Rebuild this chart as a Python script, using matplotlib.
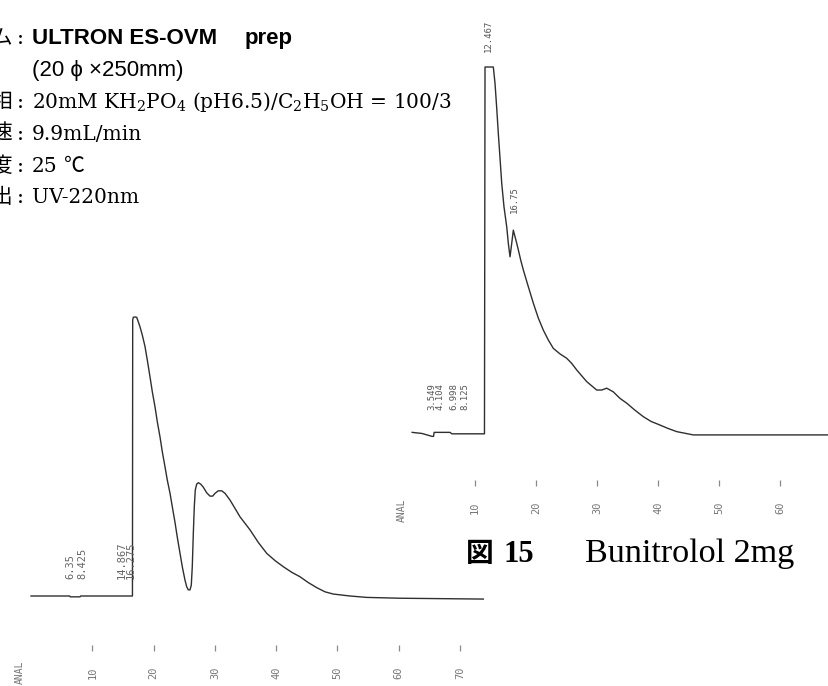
import matplotlib
matplotlib.use("Agg")
import matplotlib.pyplot as plt

plt.rcParams["mathtext.fontset"] = "dejavuserif"

W, H = 829, 686

# ---- chromatogram A (lower left): time [min] vs relative response ----
a_time = [0.0, 6.3, 6.4, 8.0, 8.1, 16.55, 16.59, 16.69, 16.97, 17.24, 17.5, 17.78,
          18.16, 18.6, 18.97, 19.41, 19.79, 20.23, 20.6, 21.04, 21.42, 21.86,
          22.23, 22.68, 23.05, 23.49, 23.87, 24.31, 24.68, 25.12, 25.4, 25.66,
          25.94, 26.15, 26.31, 26.48, 26.64, 26.8, 27.03, 27.29, 27.68, 28.11,
          28.66, 29.2, 29.64, 30.02, 30.55, 31.11, 31.65, 32.46, 33.28, 34.09,
          35.73, 37.08, 38.45, 39.8, 41.16, 42.53, 43.88, 45.24, 46.61, 47.96,
          49.31, 52.04, 54.76, 60.2, 73.79]
a_resp = [0.0, 0.0, -0.3, -0.3, 0.0, 0.0, 98.9, 99.9, 100.0, 99.9, 98.3, 96.5,
          93.5, 89.4, 84.6, 78.6, 73.2, 67.8, 62.5, 57.1, 51.7, 46.3,
          41.6, 36.8, 32.0, 26.4, 21.0, 15.3, 10.5, 5.7, 3.3, 2.2,
          2.2, 3.9, 10.5, 22.5, 32.0, 38.0, 40.1, 40.6, 40.1, 39.0,
          37.0, 35.8, 35.8, 36.8, 37.7, 37.7, 36.8, 34.4, 31.4, 28.4,
          23.7, 19.2, 15.3, 12.7, 10.5, 8.5, 6.9, 4.8, 3.0, 1.5,
          0.7, 0.0, -0.5, -0.8, -1.1]
a_ticks = [10, 20, 30, 40, 50, 60, 70]
a_rt = [6.35, 8.425, 14.867, 16.275]
a_rt_text = ["6.35", "8.425", "14.867", "16.275"]

# ---- chromatogram B (upper right): Bunitrolol 2mg ----
b_time = [-0.3, 1.3, 2.95, 3.2, 3.3, 5.9, 6.2, 11.55, 11.64, 13.0, 13.28, 13.56,
          13.82, 14.1, 14.38, 14.75, 15.2, 15.46, 15.74, 16.02, 16.28, 16.56,
          16.84, 17.1, 17.49, 17.92, 18.74, 19.56, 20.38, 21.2, 22.02, 22.84,
          23.93, 25.03, 25.85, 26.67, 28.31, 29.95, 30.77, 31.59, 32.67, 33.77,
          34.87, 36.2, 37.59, 38.85, 40.33, 41.6, 43.07, 45.79, 50.16, 68.03]
b_resp = [-0.1, -0.4, -1.2, -1.2, -0.1, -0.1, -0.5, -0.5, 100.0, 100.0, 95.5, 88.7,
          81.8, 75.0, 68.1, 61.7, 56.2, 51.7, 48.0, 51.7, 55.3, 53.5,
          51.7, 49.9, 47.1, 44.4, 39.8, 35.3, 31.2, 27.9, 25.2, 22.9,
          21.4, 20.2, 18.8, 17.0, 13.8, 11.5, 11.5, 12.0, 11.0, 9.2,
          7.9, 6.0, 4.2, 2.9, 1.9, 1.0, 0.1, -0.8, -0.8, -0.8]
b_ticks = [10, 20, 30, 40, 50, 60]
b_rt = [3.549, 4.104, 6.998, 8.125, 12.467, 16.75]
b_rt_text = ["3.549", "4.104", "6.998", "8.125", "12.467", "16.75"]
b_rt_level = [6, 6, 6, 6, 104, 60]
b_rt_shift = [-3.0, 0.8, -2.0, 0.8, -1.0, -1.0]  # printer offsets, points

# ---- conditions ----
cond_heads = ["カラム", "移動相", "流速", "温度", "検出"]
column_name = "ULTRON ES-OVM"
column_mode = "prep"
column_size = "(20 \u03d5 \u00d7250mm)"
mobile_phase = r"20mM KH$_2$PO$_4$ (pH6.5)/C$_2$H$_5$OH = 100/3"
flow_rate = "9.9mL/min"
temperature = "25"
detection = "UV-220nm"
caption_no = "15"
caption = "Bunitrolol 2mg"

LINE = "#2f2f2f"
TICK = "#8a8a8a"

fig = plt.figure(figsize=(W / 100, H / 100), dpi=100)
fig.patch.set_facecolor("white")


def fx(x):
    return x / W


def fy(y):
    return 1 - y / H


def chrom_axes(x0, x1, y0, y1):
    ax = fig.add_axes([fx(x0), fy(y1), (x1 - x0) / W, (y1 - y0) / H])
    ax.patch.set_visible(False)
    for s in ax.spines.values():
        s.set_visible(False)
    ax.set_yticks([])
    ax.tick_params(axis="x", direction="inout", length=5, width=0.9, color=TICK,
                   labelrotation=90, labelsize=7.5, labelcolor="#777777", pad=11)
    return ax


# A: 6.13 px/min, baseline at y=596, full scale 2.79 px/unit
axA = chrom_axes(31, 31 + 74 * 6.13, 290, 648)
axA.set_xlim(0, 74)
axA.set_ylim((596 - 648) / 2.79, (596 - 290) / 2.79)
axA.plot(a_time, a_resp, color=LINE, lw=1.0, clip_on=False,
         solid_joinstyle="round")
axA.set_xticks(a_ticks)
axA.set_xticklabels([str(t) for t in a_ticks], fontfamily="DejaVu Sans Mono")
for t, s in zip(a_rt, a_rt_text):
    axA.text(t, 6, s, rotation=90, ha="center", va="bottom", fontsize=7.5,
             family="DejaVu Sans Mono", color="#666666")

# B: 6.1 px/min, baseline at y=432, full scale 3.65 px/unit
axB = chrom_axes(412, 829, 0, 483)
axB.set_xlim(-0.33, 68.03)
axB.set_ylim((432 - 483) / 3.65, 432 / 3.65)
axB.plot(b_time, b_resp, color=LINE, lw=1.0, clip_on=False,
         solid_joinstyle="round")
axB.set_xticks(b_ticks)
axB.set_xticklabels([str(t) for t in b_ticks], fontfamily="DejaVu Sans Mono")
for t, s, lv, dx in zip(b_rt, b_rt_text, b_rt_level, b_rt_shift):
    axB.annotate(s, (t, lv), xytext=(dx, 0), textcoords="offset points",
                 rotation=90, ha="center", va="bottom", fontsize=6.5,
                 family="DejaVu Sans Mono", color="#555555")

# ANAL marks at the start of each time scale
fig.text(fx(20), fy(672), "ANAL", rotation=90, ha="center", va="center",
         fontsize=7, family="DejaVu Sans Mono", color="#777777")
fig.text(fx(402), fy(510), "ANAL", rotation=90, ha="center", va="center",
         fontsize=7, family="DejaVu Sans Mono", color="#777777")

# ---- condition block ----
baselines = [44, 108, 140, 172, 203]
for head, yb in zip(cond_heads, baselines):
    fig.text(fx(13), fy(yb), head, ha="right", va="baseline", fontsize=15,
             family="Noto Sans CJK JP", color="black")
    fig.text(fx(20), fy(yb), ":", ha="center", va="baseline", fontsize=15,
             family="DejaVu Serif", color="black")

fig.text(fx(32), fy(44), column_name, ha="left", va="baseline", fontsize=16,
         family="Liberation Sans", weight="bold")
fig.text(fx(245), fy(44), column_mode, ha="left", va="baseline", fontsize=16,
         family="Liberation Sans", weight="bold")
fig.text(fx(32), fy(76), column_size, ha="left", va="baseline", fontsize=16,
         family=["Liberation Sans", "DejaVu Sans"])
fig.text(fx(32), fy(108), mobile_phase, ha="left", va="baseline", fontsize=14.5,
         family="DejaVu Serif")
fig.text(fx(32), fy(140), flow_rate, ha="left", va="baseline", fontsize=14.5,
         family="DejaVu Serif")
fig.text(fx(32), fy(172), temperature, ha="left", va="baseline", fontsize=14.5,
         family="DejaVu Serif")
fig.text(fx(64), fy(172), "℃", ha="left", va="baseline", fontsize=15,
         family="Noto Sans CJK JP")
fig.text(fx(32), fy(203), detection, ha="left", va="baseline", fontsize=14.5,
         family="DejaVu Serif")

# ---- caption ----
fig.text(fx(466), fy(562), "図", ha="left", va="baseline", fontsize=20,
         family="Noto Sans CJK JP", weight="bold")
fig.text(fx(504), fy(562), caption_no, ha="left", va="baseline", fontsize=22,
         family="Liberation Serif", weight="bold")
fig.text(fx(585), fy(562), caption, ha="left", va="baseline", fontsize=24.6,
         family="Liberation Serif")

fig.savefig("out.png", dpi=100)
